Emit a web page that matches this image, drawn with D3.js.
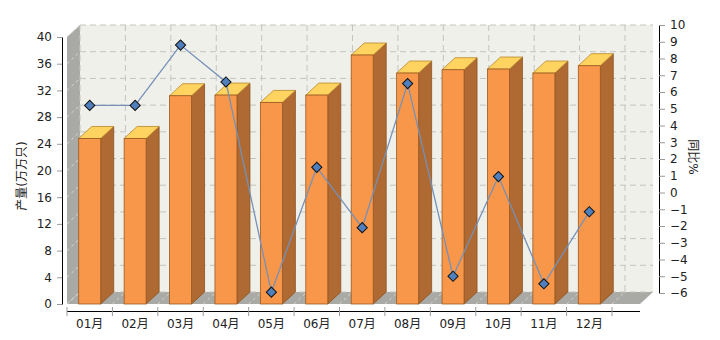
<!DOCTYPE html>
<html>
<head>
<meta charset="utf-8">
<script src="https://cdn.jsdelivr.net/npm/d3@7"></script>
<style>
  body { margin: 0; background: #fff; }
  svg text { font-family: "DejaVu Sans", "Noto Sans CJK SC", sans-serif; }
</style>
</head>
<body>
<div id="chart"></div>
<script>
const months = ["01月", "02月", "03月", "04月", "05月", "06月", "07月", "08月", "09月", "10月", "11月", "12月"];
const output = [24.8, 24.8, 31.2, 31.3, 30.2, 31.3, 37.3, 34.6, 35.1, 35.2, 34.6, 35.7];
const growth = [5.2, 5.2, 8.8, 6.6, -5.95, 1.5, -2.1, 6.5, -5.0, 0.95, -5.45, -1.15];
const leftTicks = [0, 4, 8, 12, 16, 20, 24, 28, 32, 36, 40];
const rightTicks = [-6, -5, -4, -3, -2, -1, 0, 1, 2, 3, 4, 5, 6, 7, 8, 9, 10];

const W = 720, H = 340;
const DX = 13, DY = 12;          // 3d depth offset
const plotL = 67, plotR = 640;    // front plane x extent
const frontBottom = 304, frontTop = 37;

const svg = d3.select("#chart").append("svg")
    .attr("width", W)
    .attr("height", H);

const x = d3.scaleBand()
    .domain(months)
    .range([plotL, 612])
    .padding(0);

const yL = d3.scaleLinear().domain([0, 40]).range([frontBottom, frontTop]);
const yR = d3.scaleLinear().domain([-6, 10]).range([frontBottom - DY + 1, frontTop - DY]);

// walls
const wallGray = "#a9aaa5";
svg.append("rect")
    .attr("x", plotL + DX).attr("y", frontTop - DY)
    .attr("width", plotR - plotL).attr("height", frontBottom - frontTop)
    .attr("fill", "#f0f0ea");

svg.append("polygon")
    .attr("points", [[plotL, frontTop], [plotL + DX, frontTop - DY], [plotL + DX, frontBottom - DY], [plotL, frontBottom]].join(" "))
    .attr("fill", wallGray);

svg.append("polygon")
    .attr("points", [[plotL, frontBottom], [plotL + DX, frontBottom - DY], [plotR + DX, frontBottom - DY], [plotR, frontBottom]].join(" "))
    .attr("fill", wallGray);

// grid on back wall
const grid = svg.append("g")
    .attr("stroke", "#c4c4c0")
    .attr("stroke-dasharray", "6,4")
    .attr("fill", "none");

leftTicks.forEach(v => {
    grid.append("line")
        .attr("x1", plotL + DX).attr("x2", plotR + DX)
        .attr("y1", yL(v) - DY).attr("y2", yL(v) - DY);
    svg.append("line")
        .attr("x1", plotL).attr("y1", yL(v))
        .attr("x2", plotL + DX).attr("y2", yL(v) - DY)
        .attr("stroke", "#d6d6d2")
        .attr("stroke-dasharray", "3,3");
});

const bounds = months.map(m => x(m)).concat([x(months[months.length - 1]) + x.bandwidth()]);
bounds.forEach(bx => {
    grid.append("line")
        .attr("x1", bx + DX).attr("x2", bx + DX)
        .attr("y1", frontTop - DY).attr("y2", frontBottom - DY);
    svg.append("line")
        .attr("x1", bx).attr("y1", frontBottom)
        .attr("x2", bx + DX).attr("y2", frontBottom - DY)
        .attr("stroke", "#d6d6d2")
        .attr("stroke-dasharray", "3,3");
});

// bars
const barW = 22;
const bars = svg.append("g").selectAll("g")
    .data(months.map((m, i) => ({ month: m, value: output[i] })))
    .enter().append("g");

bars.append("polygon")
    .attr("points", d => {
        const x0 = x(d.month) + x.bandwidth() / 2 + barW / 2;
        const yt = yL(d.value);
        return [[x0, yt], [x0 + DX, yt - DY], [x0 + DX, frontBottom - DY], [x0, frontBottom]].join(" ");
    })
    .attr("fill", "#ae6a32")
    .attr("stroke", "#8c5220")
    .attr("stroke-width", 0.8);

bars.append("polygon")
    .attr("points", d => {
        const x0 = x(d.month) + x.bandwidth() / 2 - barW / 2;
        const yt = yL(d.value);
        return [[x0, yt], [x0 + DX, yt - DY], [x0 + barW + DX, yt - DY], [x0 + barW, yt]].join(" ");
    })
    .attr("fill", "#ffd35f")
    .attr("stroke", "#b8862a")
    .attr("stroke-width", 0.8);

bars.append("rect")
    .attr("x", d => x(d.month) + x.bandwidth() / 2 - barW / 2)
    .attr("y", d => yL(d.value))
    .attr("width", barW)
    .attr("height", d => frontBottom - yL(d.value))
    .attr("fill", "#f8974a")
    .attr("stroke", "#9a5a22")
    .attr("stroke-width", 0.8);

// line series
const line = d3.line()
    .x((d, i) => x(months[i]) + x.bandwidth() / 2)
    .y(d => yR(d));

svg.append("path")
    .datum(growth)
    .attr("d", line)
    .attr("fill", "none")
    .attr("stroke", "#7590b8")
    .attr("stroke-width", 1.3);

svg.append("g").selectAll("path")
    .data(growth)
    .enter().append("path")
    .attr("d", d3.symbol().type(d3.symbolSquare).size(52))
    .attr("transform", (d, i) => `translate(${x(months[i]) + x.bandwidth() / 2},${yR(d)}) rotate(45)`)
    .attr("fill", "#4f7fbd")
    .attr("stroke", "#111")
    .attr("stroke-width", 1);

// left axis
const axL = svg.append("g")
    .attr("transform", "translate(62,0)")
    .call(d3.axisLeft(yL).tickValues(leftTicks).tickSize(5).tickSizeOuter(0).tickPadding(5));
axL.select(".domain").attr("stroke", "#000");
axL.selectAll(".tick line").attr("stroke", "#999");
axL.selectAll("text").attr("font-size", 12).attr("fill", "#222");

// right axis
const axR = svg.append("g")
    .attr("transform", "translate(659,0)")
    .call(d3.axisRight(yR).tickValues(rightTicks).tickSize(6).tickSizeOuter(0).tickPadding(5).tickFormat(d => d < 0 ? "\u2212" + Math.abs(d) : d));
axR.select(".domain").attr("stroke", "#000");
axR.selectAll(".tick line").attr("stroke", "#999");
axR.selectAll("text").attr("font-size", 12).attr("fill", "#222");

// bottom axis
svg.append("line")
    .attr("x1", plotL).attr("x2", plotR)
    .attr("y1", 311.5).attr("y2", 311.5)
    .attr("stroke", "#000");

bounds.forEach(bx => {
    svg.append("line")
        .attr("x1", bx).attr("x2", bx)
        .attr("y1", 307).attr("y2", 316)
        .attr("stroke", "#999");
});

const axB = svg.append("g")
    .attr("transform", "translate(0,311)")
    .call(d3.axisBottom(x).tickSize(0).tickPadding(8));
axB.select(".domain").remove();
axB.selectAll("text").attr("font-size", 12).attr("fill", "#222")
    .attr("font-family", "'DejaVu Sans', 'Noto Sans CJK SC', sans-serif");

// titles
svg.append("text")
    .attr("transform", "translate(26,176) rotate(-90)")
    .attr("text-anchor", "middle")
    .attr("font-size", 12)
    .attr("fill", "#222")
    .text("产量(万万只)");

svg.append("text")
    .attr("transform", "translate(689,157) rotate(90)")
    .attr("text-anchor", "middle")
    .attr("font-size", 12)
    .attr("fill", "#222")
    .text("同比%");
</script>
</body>
</html>
